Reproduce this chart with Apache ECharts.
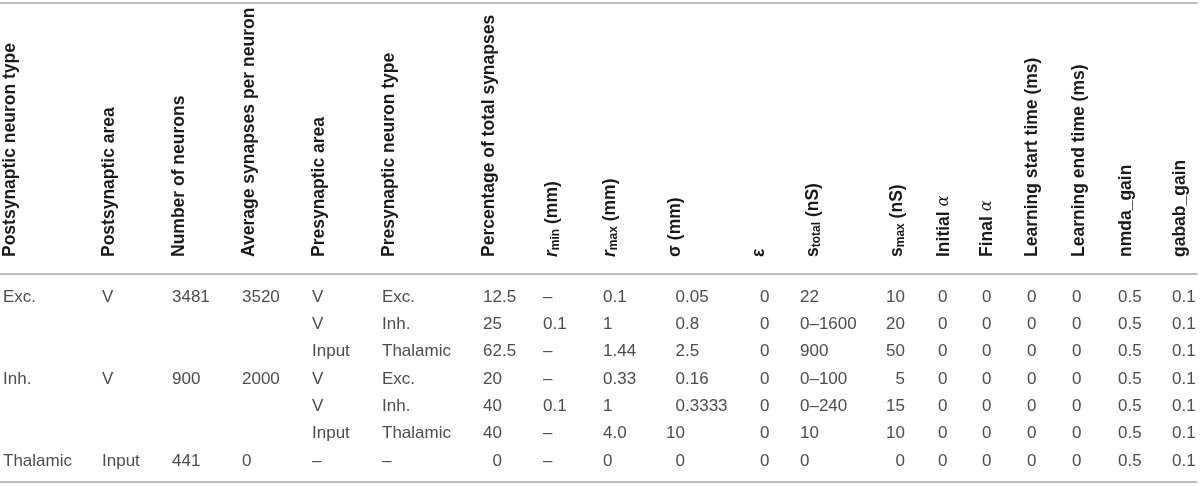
<!DOCTYPE html>
<html>
<head>
<meta charset="utf-8">
<script src="https://cdn.jsdelivr.net/npm/echarts@6/dist/echarts.min.js"></script>
<style>
html,body{margin:0;padding:0;background:#fff;}
#chart{width:1200px;height:486px;}
</style>
</head>
<body>
<div id="chart"></div>
<script>
// ---------- DATA ----------
const headers = [
  '{b|Postsynaptic neuron type}',
  '{b|Postsynaptic area}',
  '{b|Number of neurons}',
  '{b|Average synapses per neuron}',
  '{b|Presynaptic area}',
  '{b|Presynaptic neuron type}',
  '{b|Percentage of total synapses}',
  '{ib|r}{sub|min}{b| (mm)}',
  '{ib|r}{sub|max}{b| (mm)}',
  '{b|σ (mm)}',
  '{b|ε}',
  '{s|s}{sub|total}{b| (nS)}',
  '{s|s}{sub|max}{b| (nS)}',
  '{b|Initial }{a|α}',
  '{b|Final }{a|α}',
  '{b|Learning start time (ms)}',
  '{b|Learning end time (ms)}',
  '{b|nmda_gain}',
  '{b|gabab_gain}'
];
const postType   = ['Exc.', '', '', 'Inh.', '', '', 'Thalamic'];
const postArea   = ['V', '', '', 'V', '', '', 'Input'];
const numNeurons = ['3481', '', '', '900', '', '', '441'];
const avgSyn     = ['3520', '', '', '2000', '', '', '0'];
const preArea    = ['V', 'V', 'Input', 'V', 'V', 'Input', '–'];
const preType    = ['Exc.', 'Inh.', 'Thalamic', 'Exc.', 'Inh.', 'Thalamic', '–'];
const pctSyn     = ['12.5', '25', '62.5', '20', '40', '40', '0'];
const rMin       = ['–', '0.1', '–', '–', '0.1', '–', '–'];
const rMax       = ['0.1', '1', '1.44', '0.33', '1', '4.0', '0'];
const sigma      = ['0.05', '0.8', '2.5', '0.16', '0.3333', '10', '0'];
const epsilon    = ['0', '0', '0', '0', '0', '0', '0'];
const sTotal     = ['22', '0–1600', '900', '0–100', '0–240', '10', '0'];
const sMax       = ['10', '20', '50', '5', '15', '10', '0'];
const initAlpha  = ['0', '0', '0', '0', '0', '0', '0'];
const finalAlpha = ['0', '0', '0', '0', '0', '0', '0'];
const learnStart = ['0', '0', '0', '0', '0', '0', '0'];
const learnEnd   = ['0', '0', '0', '0', '0', '0', '0'];
const nmdaGain   = ['0.5', '0.5', '0.5', '0.5', '0.5', '0.5', '0.5'];
const gababGain  = ['0.1', '0.1', '0.1', '0.1', '0.1', '0.1', '0.1'];

const columns = [postType, postArea, numNeurons, avgSyn, preArea, preType, pctSyn, rMin, rMax,
  sigma, epsilon, sTotal, sMax, initAlpha, finalAlpha, learnStart, learnEnd, nmdaGain, gababGain];

// ---------- LAYOUT (positions / alignment, not data) ----------
const colX   = [3, 102, 172, 242, 312, 382, 502, 543, 603, 685, 760, 800, 905, 938, 982, 1027, 1072, 1118, 1172];
const colAlign = ['l','l','l','l','l','l','d','l','l','d','l','l','r','l','l','l','l','l','l'];
const headX  = [10, 109, 179, 249, 319, 389, 489, 552, 610, 675, 759, 813, 897, 944, 987, 1032, 1079, 1126, 1180];

const FONT = '"Liberation Sans", Arial, Helvetica, sans-serif';
const cellColor = '#4d4d4d';
const headColor = '#1a1a1a';
const lineColor = '#a9a9a9';

const cells = [];
columns.forEach((col, c) => {
  col.forEach((txt, r) => {
    if (txt !== '') cells.push({ value: [colX[c], r], text: txt, align: colAlign[c] });
  });
});
const headCells = headers.map((h, c) => ({ value: [headX[c], 0], text: h }));

const txtStyle = { fontFamily: FONT, fontSize: 17, fill: cellColor, verticalAlign: 'middle' };

const chart = echarts.init(document.getElementById('chart'), null, { renderer: 'canvas' });
const axisLine = { show: true, onZero: false, lineStyle: { color: lineColor, width: 1.5 } };
const hidden = { show: false };

chart.setOption({
  backgroundColor: '#ffffff',
  animation: false,
  grid: [
    { left: 0, right: 3, top: 3, height: 271 },
    { left: 0, right: 3, top: 274, bottom: 4 }
  ],
  xAxis: [
    { gridIndex: 0, type: 'value', min: 0, max: 1197, position: 'top', axisLine, axisTick: hidden, axisLabel: hidden, splitLine: hidden },
    { gridIndex: 0, type: 'value', min: 0, max: 1197, position: 'bottom', axisLine, axisTick: hidden, axisLabel: hidden, splitLine: hidden },
    { gridIndex: 1, type: 'value', min: 0, max: 1197, position: 'bottom', axisLine, axisTick: hidden, axisLabel: hidden, splitLine: hidden }
  ],
  yAxis: [
    { gridIndex: 0, type: 'value', min: 0, max: 1, show: false },
    { gridIndex: 1, type: 'value', inverse: true, min: -0.8415, max: 6.768, show: false }
  ],
  series: [
    {
      type: 'custom',
      xAxisIndex: 0, yAxisIndex: 0,
      data: headCells,
      renderItem: function (params, api) {
        const p = api.coord([api.value(0), api.value(1)]);
        const h = headCells[params.dataIndex];
        return {
          type: 'text',
          x: p[0], y: p[1] - 17,
          rotation: Math.PI / 2,
          style: {
            text: h.text,
            align: 'left', verticalAlign: 'middle',
            fill: headColor,
            rich: {
              b: { fontFamily: FONT, fontWeight: 'bold', fontSize: 17.5, fill: headColor },
              ib: { fontFamily: FONT, fontWeight: 'bold', fontStyle: 'italic', fontSize: 17.5, fill: headColor },
              s: { fontFamily: FONT, fontWeight: 'bold', fontSize: 17.5, fill: headColor },
              sub: { fontFamily: FONT, fontWeight: 'bold', fontSize: 12, fill: headColor, verticalAlign: 'bottom', padding: [8, 0, 0, 0] },
              a: { fontFamily: '"DejaVu Serif", "Liberation Serif", serif', fontStyle: 'italic', fontSize: 16, fill: headColor }
            }
          }
        };
      }
    },
    {
      type: 'custom',
      xAxisIndex: 2, yAxisIndex: 1,
      data: cells,
      renderItem: function (params, api) {
        const p = api.coord([api.value(0), api.value(1)]);
        const cell = cells[params.dataIndex];
        if (cell.align === 'd') {
          const i = cell.text.indexOf('.');
          const ip = i >= 0 ? cell.text.slice(0, i) : cell.text;
          const fp = i >= 0 ? cell.text.slice(i) : '';
          return {
            type: 'group',
            children: [
              { type: 'text', x: p[0], y: p[1], style: Object.assign({}, txtStyle, { text: ip, align: 'right' }) },
              { type: 'text', x: p[0], y: p[1], style: Object.assign({}, txtStyle, { text: fp, align: 'left' }) }
            ]
          };
        }
        return {
          type: 'text', x: p[0], y: p[1],
          style: Object.assign({}, txtStyle, { text: cell.text, align: cell.align === 'r' ? 'right' : 'left' })
        };
      }
    }
  ]
});
</script>
</body>
</html>
